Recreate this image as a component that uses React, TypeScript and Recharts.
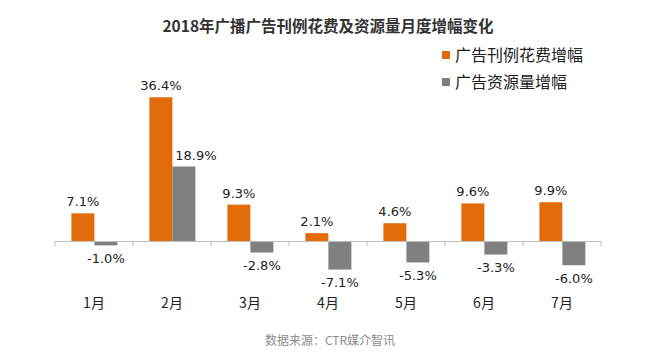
import { BarChart, Bar, XAxis, YAxis, ReferenceLine, LabelList } from "recharts";

const months = ["1月", "2月", "3月", "4月", "5月", "6月", "7月"];
const spendGrowth = [7.1, 36.4, 9.3, 2.1, 4.6, 9.6, 9.9];
const volumeGrowth = [-1.0, 18.9, -2.8, -7.1, -5.3, -3.3, -6.0];
const seriesNames = ["广告刊例花费增幅", "广告资源量增幅"];
const seriesColors = ["#E36C0A", "#808080"];
const yDomain = [-12, 40];

const W = 648;
const H = 357;
const margin = { top: 83, right: 47, left: 55, bottom: 38 };
const xAxisHeight = 30;
const plotW = W - margin.left - margin.right;
const plotH = H - margin.top - margin.bottom - xAxisHeight;
const bandW = plotW / months.length;
const zeroY = margin.top + (yDomain[1] / (yDomain[1] - yDomain[0])) * plotH;

const data = months.map((m, i) => ({
  month: m,
  spend: spendGrowth[i],
  volume: volumeGrowth[i],
}));

const numFont = "'DejaVu Sans', Verdana, sans-serif";
const cjkFont = "'Noto Sans CJK SC', 'Noto Sans', sans-serif";

// month label below the plot + little tick marks hanging off the zero line
const MonthTick = (props: any) => {
  const { x, y, payload, index } = props;
  const left = x - bandW / 2;
  return (
    <g>
      <line x1={left} x2={left} y1={zeroY} y2={zeroY + 5} stroke="#bfbfbf" />
      {index === months.length - 1 && (
        <line x1={left + bandW} x2={left + bandW} y1={zeroY} y2={zeroY + 5} stroke="#bfbfbf" />
      )}
      <text x={x} y={y} dy="0.85em" textAnchor="middle" fontSize={14} fill="#222" fontFamily={cjkFont}>
        {payload.value}
      </text>
    </g>
  );
};

const fmt = (v: any) => `${Number(v).toFixed(1)}%`;

// gray labels: below negative bars, above (nudged right) for positive ones
const VolumeLabel = (props: any) => {
  const { x, y, width, value } = props;
  const cx = x + width / 2;
  if (value >= 0) {
    return (
      <text x={cx + 12} y={y - 7} textAnchor="middle" fontSize={13} fill="#222" fontFamily={numFont}>
        {fmt(value)}
      </text>
    );
  }
  return (
    <text x={cx} y={y + 8} dy="0.75em" textAnchor="middle" fontSize={13} fill="#222" fontFamily={numFont}>
      {fmt(value)}
    </text>
  );
};

export default function App() {
  return (
    <div style={{ position: "absolute", left: 0, top: 0, width: W, height: H, background: "#fff" }}>
      <div
        style={{
          position: "absolute",
          top: 14,
          left: 0,
          width: W,
          textAlign: "center",
          fontFamily: cjkFont,
          fontWeight: "bold",
          fontSize: 15.5,
          lineHeight: "22px",
          color: "#333",
          paddingLeft: 4,
        }}
      >
        2018年广播广告刊例花费及资源量月度增幅变化
      </div>

      {/* legend */}
      <div style={{ position: "absolute", left: 442, top: 42, fontFamily: cjkFont, fontSize: 16, color: "#222" }}>
        {seriesNames.map((name, i) => (
          <div key={name} style={{ display: "flex", alignItems: "center", height: 25, marginBottom: 2 }}>
            <span style={{ width: 8, height: 8, background: seriesColors[i], marginRight: 5, display: "inline-block" }} />
            <span style={{ lineHeight: "25px" }}>{name}</span>
          </div>
        ))}
      </div>

      <BarChart width={W} height={H} data={data} margin={margin} barCategoryGap="21%" barGap={0}>
        <XAxis
          dataKey="month"
          axisLine={false}
          tickLine={false}
          tickSize={0}
          tickMargin={7}
          height={xAxisHeight}
          interval={0}
          tick={MonthTick}
        />
        <YAxis hide domain={yDomain} />
        <ReferenceLine y={0} stroke="#bfbfbf" strokeWidth={1} />
        <Bar dataKey="spend" fill={seriesColors[0]} isAnimationActive={false}>
          <LabelList
            dataKey="spend"
            position="top"
            offset={7}
            formatter={fmt}
            style={{ fontSize: 13, fill: "#222", fontFamily: numFont }}
          />
        </Bar>
        <Bar dataKey="volume" fill={seriesColors[1]} isAnimationActive={false}>
          <LabelList dataKey="volume" content={VolumeLabel} />
        </Bar>
      </BarChart>

      <div
        style={{
          position: "absolute",
          top: 331,
          left: 0,
          width: W,
          textAlign: "center",
          fontFamily: cjkFont,
          fontSize: 12,
          lineHeight: "18px",
          color: "#8c8c8c",
          paddingLeft: 6,
        }}
      >
        数据来源：CTR媒介智讯
      </div>
    </div>
  );
}
